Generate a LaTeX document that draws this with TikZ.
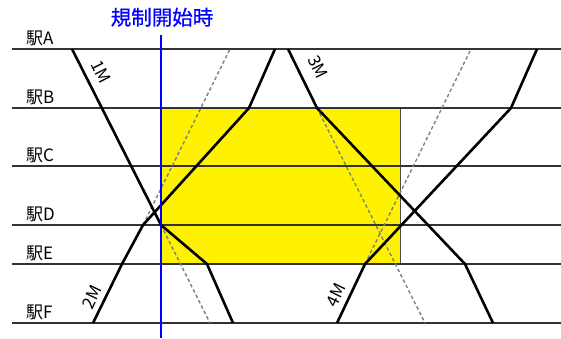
\documentclass[tikz,border=0pt]{standalone}
\usepackage{fontspec}
\setmainfont{Noto Sans CJK JP}
\newfontfamily\titlefont[FakeBold=0.6]{Noto Sans CJK JP}
\begin{document}
\begin{tikzpicture}[x=1pt,y=-1pt,
  station/.style={draw=black!80,line width=1.3pt},
  train/.style={draw=black,line width=2.6pt,line join=miter},
  ghost/.style={draw=gray,line width=1.4pt,dash pattern=on 3.5pt off 2.5pt},
  stlabel/.style={anchor=base west,inner sep=0pt,font=\fontsize{17}{19}\selectfont},
  tlabel/.style={inner sep=0pt,font=\fontsize{17}{19}\selectfont}]
\useasboundingbox (0,0) rectangle (561,338);
% yellow regulated block
\fill[yellow] (161,108) rectangle (400,264);
\draw[draw=black!70,line width=0.8pt] (400,108) -- (400,264);
% stations
\foreach \n/\y in {A/49,B/108,C/166,D/225,E/264,F/323}{
  \coordinate (L\n) at (12,\y);
  \coordinate (R\n) at (561,\y);
  \draw[station] (L\n) -- (R\n);
  \node[stlabel] (lab\n) at (26,\y-5) {駅\n};
}
% train coordinates
\coordinate (a1) at (72,49);  \coordinate (d1) at (161,225);
\coordinate (e1) at (207,264); \coordinate (f1) at (233,323);
\coordinate (f1d) at (210,323);
\coordinate (f2) at (93,323);  \coordinate (e2) at (122,264);
\coordinate (d2) at (143,225); \coordinate (b2) at (249,108);
\coordinate (a2) at (275,49);  \coordinate (a2d) at (230,49);
\coordinate (a3) at (288,49);  \coordinate (b3) at (317,108);
\coordinate (e3) at (465,264); \coordinate (f3) at (493,323);
\coordinate (f3d) at (425,323);
\coordinate (f4) at (337,323); \coordinate (e4) at (365,264);
\coordinate (b4) at (511,108); \coordinate (a4) at (537,49);
\coordinate (a4d) at (471,49);
% planned (cancelled) paths
\draw[ghost] (d1) -- (f1d);
\draw[ghost] (d2) -- (a2d);
\draw[ghost] (b3) -- (f3d);
\draw[ghost] (e4) -- (a4d);
% actual paths
\draw[train] (a1) -- (d1) -- (e1) -- (f1);
\draw[train] (f2) -- (e2) -- (d2) -- (b2) -- (a2);
\draw[train] (a3) -- (b3) -- (e3) -- (f3);
\draw[train] (f4) -- (e4) -- (b4) -- (a4);
% regulation start line
\coordinate (bt) at (161,35);
\coordinate (bb) at (161,338);
\draw[blue,line width=1.6pt] (bt) -- (bb);
\node[text=blue,inner sep=0pt,anchor=base,font=\titlefont\fontsize{20.5}{22}\selectfont] (title) at (162,25) {規制開始時};
% train labels
\node[tlabel,rotate=-63] (m1) at (101,72) {1M};
\node[tlabel,rotate=-64] (m3) at (318,67) {3M};
\node[tlabel,rotate=64] (m2) at (92,297) {2M};
\node[tlabel,rotate=64] (m4) at (336,295) {4M};
\end{tikzpicture}
\end{document}
